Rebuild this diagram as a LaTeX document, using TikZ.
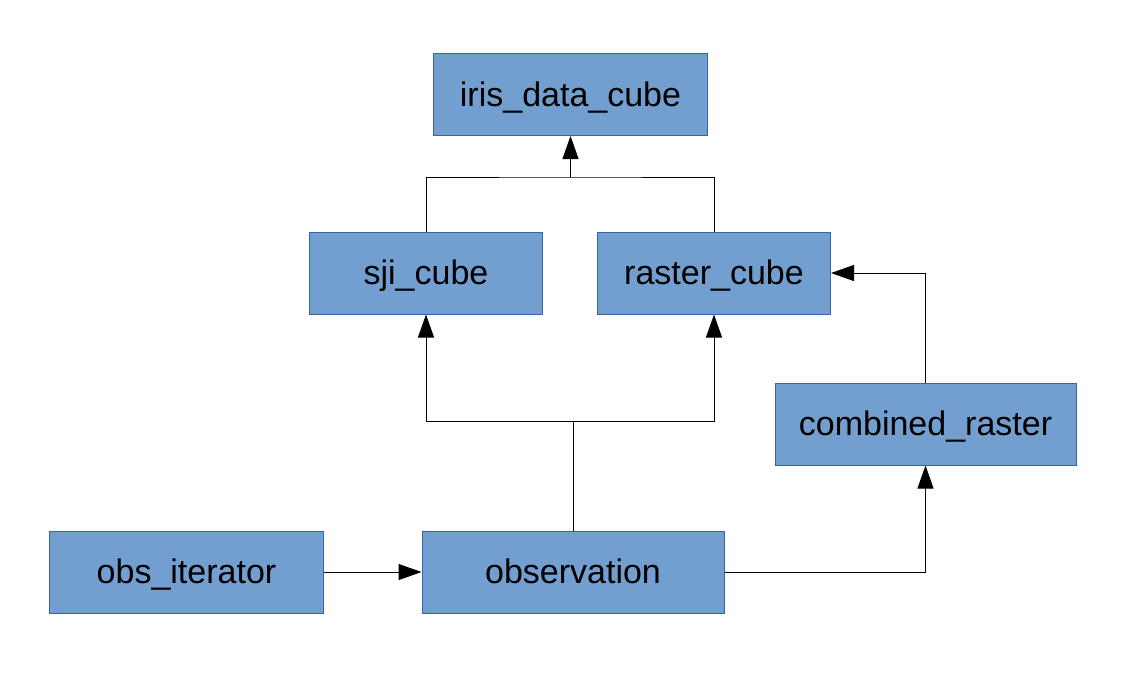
\documentclass[tikz,border=0pt]{standalone}
\usepackage{fontspec}
\setmainfont{Liberation Sans}
\usetikzlibrary{arrows.meta}
\definecolor{boxfill}{HTML}{729FCF}
\definecolor{boxline}{HTML}{3465A4}
\begin{document}
\begin{tikzpicture}[x=1pt,y=-1pt,
  box/.style={draw=boxline,fill=boxfill,line width=1pt,inner sep=0pt,
    minimum height=82pt,text height=23.5pt,text depth=0pt,
    font=\fontsize{34}{40}\selectfont,text=black},
  conn/.style={line width=1pt,-{Triangle[length=23pt,width=16pt]}},
  plain/.style={line width=1pt}]
\useasboundingbox (0,0) rectangle (1126,673);
\node[box,minimum width=274pt] (iris) at (570.5,94.5) {iris\_data\_cube};
\node[box,minimum width=233pt] (sji) at (426,273) {sji\_cube};
\node[box,minimum width=233pt] (raster) at (714,273) {raster\_cube};
\node[box,minimum width=301pt] (comb) at (925.5,424) {combined\_raster};
\node[box,minimum width=274pt] (iter) at (186.5,572) {obs\_iterator};
\node[box,minimum width=302pt] (obs) at (573,572) {observation};
\coordinate (top) at (570.5,177);
\coordinate (mid) at (573,421);
\draw[plain] (sji.north) |- (top) -| (raster.north);
\draw[conn] (top) -- (iris.south);
\draw[plain] (obs.north) -- (mid);
\draw[conn] (mid) -| (sji.south);
\draw[conn] (mid) -| (raster.south);
\draw[conn] (iter.east) -- (obs.west);
\draw[conn] (obs.east) -| (comb.south);
\draw[conn] (comb.north) |- (raster.east);
\end{tikzpicture}
\end{document}
